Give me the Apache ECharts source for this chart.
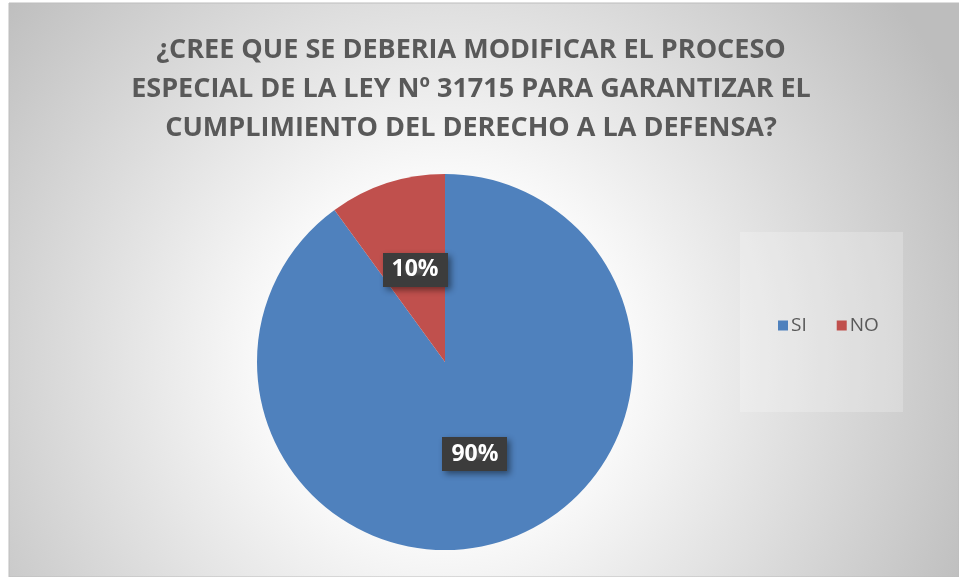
<!DOCTYPE html>
<html><head><meta charset="utf-8">
<script src="https://cdn.jsdelivr.net/npm/echarts@6/dist/echarts.min.js"></script>
<style>html,body{margin:0;padding:0;background:#fff}#c{width:959px;height:577px}</style>
</head><body><div id="c"></div>
<script>
const titleText = '¿CREE QUE SE DEBERIA MODIFICAR EL PROCESO\nESPECIAL DE LA LEY Nº 31715 PARA GARANTIZAR EL\nCUMPLIMIENTO DEL DERECHO A LA DEFENSA?';
const categories = ['SI', 'NO'];
const values = [90, 10];
const colors = ['#4f81bd', '#c0504d'];

// dotted dark pattern for the labels
const pc = document.createElement('canvas');
pc.width = 8; pc.height = 8;
const px = pc.getContext('2d');
px.fillStyle = '#3c3c3c'; px.fillRect(0, 0, 8, 8);
px.fillStyle = '#575757'; px.fillRect(3, 3, 2, 2);

const chart = echarts.init(document.getElementById('c'));
chart.setOption({
  backgroundColor: '#ffffff',
  animation: false,
  graphic: [
    { type: 'rect', z: -10, shape: { x: 9, y: 3, width: 950, height: 574 },
      style: { fill: new echarts.graphic.RadialGradient(0.46, 0.62, 1, [
        { offset: 0, color: '#ffffff' }, { offset: 0.3, color: '#fbfbfb' }, { offset: 1, color: '#bdbdbd' }]),
        stroke: '#bdbdbd', lineWidth: 1 } },
    { type: 'rect', z: -9, shape: { x: 740, y: 232, width: 163, height: 180 },
      style: { fill: 'rgba(255,255,255,0.22)' } }
  ],
  title: {
    text: titleText, left: 466, top: 26, textAlign: 'center',
    textStyle: { fontFamily: 'Open Sans', fontWeight: 'bold', fontSize: 27, color: '#595959', lineHeight: 39 }
  },
  legend: {
    data: categories, orient: 'horizontal', left: 773, top: 311, itemWidth: 10, itemHeight: 10, itemGap: 30,
    icon: 'rect',
    textStyle: { fontFamily: 'Open Sans', fontSize: 19, color: '#595959', padding: [0, 0, 0, -2] }
  },
  series: [{
    type: 'pie', center: [445, 362], radius: 188, startAngle: 90, clockwise: true,
    color: colors,
    data: categories.map((c, i) => ({ name: c, value: values[i] })),
    itemStyle: { borderWidth: 0 },
    label: {
      show: true, position: 'inside', formatter: '{d}%',
      fontFamily: 'Open Sans', fontWeight: 'bold', fontSize: 23, color: '#ffffff',
      backgroundColor: { image: pc }, padding: [6, 9, 5, 9],
      shadowColor: 'rgba(0,0,0,0.45)', shadowBlur: 6, shadowOffsetX: 3, shadowOffsetY: 3
    },
    labelLine: { show: false },
    emphasis: { disabled: true }
  }]
});
</script></body></html>
